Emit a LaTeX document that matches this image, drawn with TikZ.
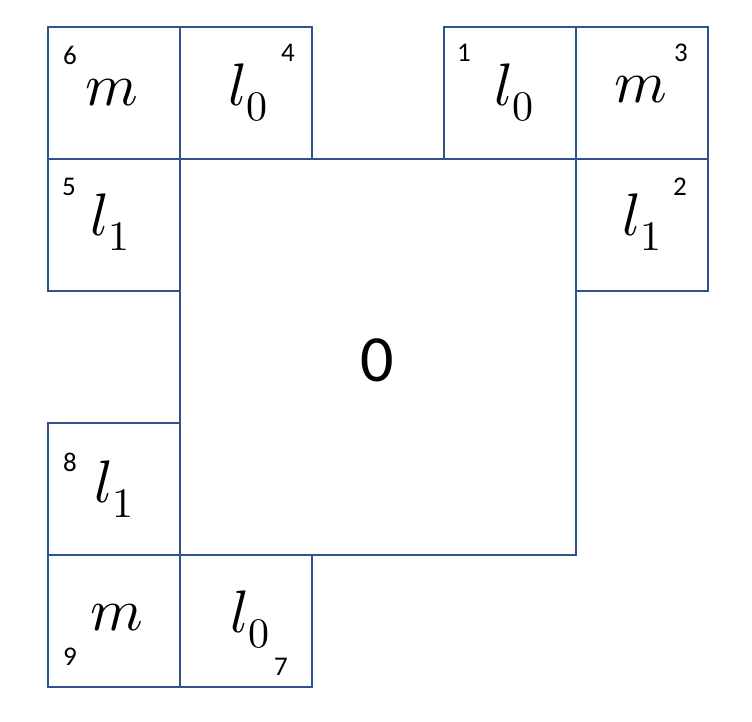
\documentclass[tikz,border=0pt]{standalone}
\usepackage{fontspec}
\setmainfont{Carlito}
\usepackage{unicode-math}
\setmathfont{Latin Modern Math}
\definecolor{edge}{HTML}{2F528F}
\begin{document}
\begin{tikzpicture}[x=1pt,y=-1pt,
  cell/.style={draw=edge,line width=1.8pt,minimum size=132pt,inner sep=0pt,fill=none},
  bigcell/.style={draw=edge,line width=1.8pt,minimum size=396pt,inner sep=0pt},
  sym/.style={inner sep=0pt,font=\fontsize{60}{60}\selectfont},
  num/.style={inner sep=0pt,font=\fontsize{27}{27}\selectfont},
  zero/.style={inner sep=0pt,font=\fontsize{66}{66}\selectfont}]
\useasboundingbox (0,0) rectangle (752,722);
% cells
\node[bigcell] (c0) at (378,357) {};
\node[cell] (c6) at (114,93) {};
\node[cell] (c4) at (246,93) {};
\node[cell] (c1) at (510,93) {};
\node[cell] (c3) at (642,93) {};
\node[cell] (c5) at (114,225) {};
\node[cell] (c2) at (642,225) {};
\node[cell] (c8) at (114,489) {};
\node[cell] (c9) at (114,621) {};
\node[cell] (c7) at (246,621) {};
% symbols
\node[sym] (m6) at (112,93) {$m$};
\node[sym] (l4) at (248,93) {$l_0$};
\node[sym] (l1) at (514,93) {$l_0$};
\node[sym] (m3) at (641,90) {$m$};
\node[sym] (l5) at (110,222) {$l_1$};
\node[sym] (l2) at (642,222) {$l_1$};
\node[sym] (l8) at (114,489) {$l_1$};
\node[sym] (m9) at (117,618) {$m$};
\node[sym] (l7) at (250,620) {$l_0$};
% numbers
\node[num] (n6) at (70,55) {6};
\node[num] (n4) at (288,53) {4};
\node[num] (n1) at (464,53) {1};
\node[num] (n3) at (681,53) {3};
\node[num] (n5) at (69,187) {5};
\node[num] (n2) at (680,187) {2};
\node[num] (n8) at (70,462) {8};
\node[num] (n9) at (70,657) {9};
\node[num] (n7) at (281,667) {7};
\node[zero] (z) at (377,360) {0};
\end{tikzpicture}
\end{document}
